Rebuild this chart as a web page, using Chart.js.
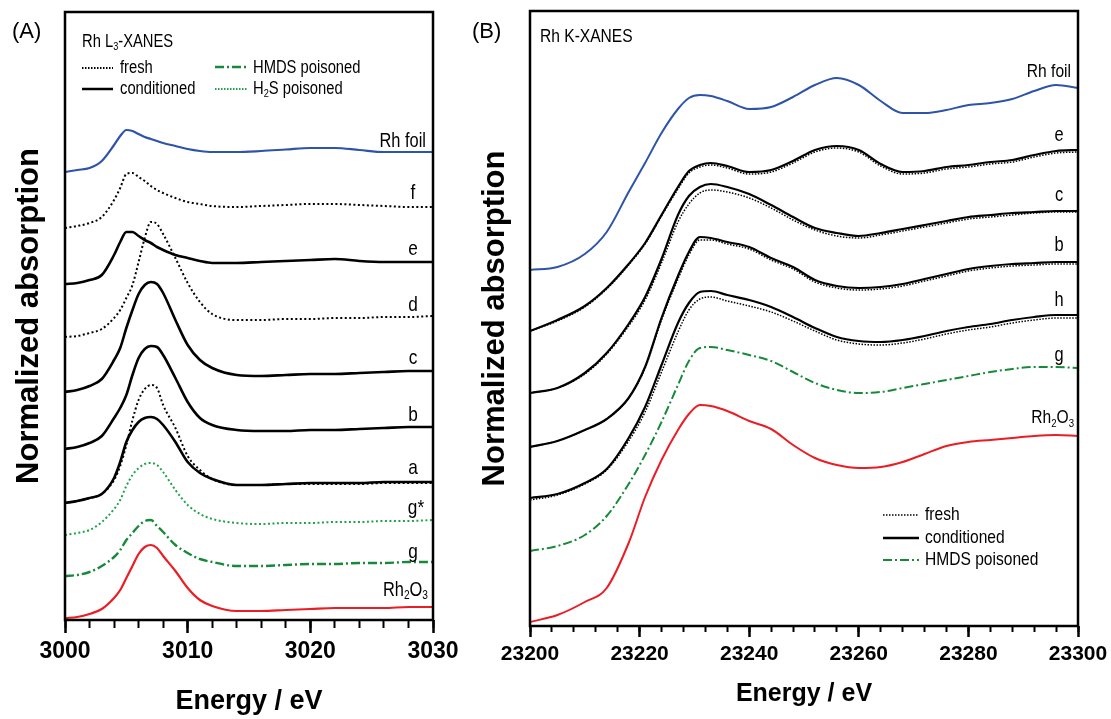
<!DOCTYPE html>
<html>
<head>
<meta charset="utf-8">
<title>Rh XANES</title>
<script src="https://cdn.jsdelivr.net/npm/chart.js@4.4.1/dist/chart.umd.min.js"></script>
<style>
  html, body { margin: 0; padding: 0; background: #fff; }
  #wrap { position: relative; width: 1111px; height: 719px; overflow: hidden; }
  canvas { position: absolute; top: 0; }
  #chartA { left: 0; }
  #chartB { left: 470px; }
</style>
</head>
<body>
<div id="wrap">
  <canvas id="chartA" width="470" height="719"></canvas>
  <canvas id="chartB" width="645" height="719"></canvas>
</div>
<script>
// ---- (A) Rh L3-edge, offset-stacked spectra ----
const energyA = [3000, 3001, 3002, 3003, 3004, 3004.5, 3005, 3005.5, 3006, 3006.5, 3007, 3007.5, 3008, 3009, 3010, 3011, 3012, 3014, 3016, 3018, 3020, 3022, 3024, 3026, 3028, 3030];
const foilA = [4.48, 4.50, 4.52, 4.59, 4.75, 4.84, 4.90, 4.89, 4.86, 4.83, 4.81, 4.79, 4.77, 4.74, 4.71, 4.69, 4.68, 4.68, 4.69, 4.705, 4.72, 4.72, 4.70, 4.68, 4.68, 4.68];
const fA = [3.92, 3.94, 3.97, 4.03, 4.20, 4.32, 4.46, 4.47, 4.43, 4.39, 4.34, 4.30, 4.27, 4.22, 4.18, 4.16, 4.14, 4.13, 4.14, 4.15, 4.16, 4.16, 4.15, 4.14, 4.13, 4.13];
const eA = [3.36, 3.37, 3.40, 3.45, 3.65, 3.78, 3.88, 3.88, 3.84, 3.80, 3.77, 3.73, 3.70, 3.65, 3.62, 3.59, 3.57, 3.57, 3.58, 3.59, 3.60, 3.61, 3.59, 3.58, 3.58, 3.58];
const dA = [2.83, 2.84, 2.87, 2.91, 3.02, 3.10, 3.22, 3.35, 3.58, 3.82, 3.98, 3.96, 3.86, 3.62, 3.37, 3.18, 3.06, 3.00, 3.00, 3.01, 3.01, 3.02, 3.02, 3.03, 3.03, 3.04];
const cA = [2.28, 2.30, 2.34, 2.41, 2.60, 2.72, 2.92, 3.10, 3.26, 3.35, 3.38, 3.36, 3.27, 3.00, 2.75, 2.60, 2.52, 2.45, 2.44, 2.45, 2.46, 2.46, 2.47, 2.48, 2.49, 2.49];
const bA = [1.71, 1.73, 1.77, 1.84, 2.02, 2.12, 2.25, 2.45, 2.62, 2.71, 2.74, 2.73, 2.65, 2.42, 2.18, 2.02, 1.95, 1.90, 1.89, 1.89, 1.90, 1.90, 1.91, 1.92, 1.93, 1.93];
const aA = [1.17, 1.19, 1.22, 1.26, 1.42, 1.58, 1.78, 1.90, 1.98, 2.02, 2.03, 2.01, 1.95, 1.78, 1.58, 1.47, 1.41, 1.35, 1.35, 1.36, 1.37, 1.37, 1.37, 1.38, 1.38, 1.38];
const aFreshA = [1.17, 1.19, 1.22, 1.26, 1.40, 1.54, 1.75, 2.00, 2.20, 2.31, 2.35, 2.32, 2.15, 1.92, 1.64, 1.50, 1.41, 1.35, 1.35, 1.36, 1.36, 1.36, 1.36, 1.37, 1.37, 1.37];
const gStarA = [0.85, 0.87, 0.90, 0.98, 1.11, 1.20, 1.34, 1.45, 1.52, 1.56, 1.57, 1.55, 1.48, 1.30, 1.15, 1.06, 1.01, 0.97, 0.96, 0.97, 0.97, 0.98, 0.98, 0.99, 0.99, 1.00];
const gA = [0.44, 0.45, 0.48, 0.54, 0.63, 0.70, 0.80, 0.87, 0.94, 0.99, 1.00, 0.94, 0.88, 0.75, 0.67, 0.61, 0.58, 0.54, 0.54, 0.55, 0.56, 0.56, 0.57, 0.57, 0.58, 0.58];
const rh2o3A = [0.02, 0.03, 0.06, 0.11, 0.22, 0.30, 0.42, 0.54, 0.66, 0.73, 0.75, 0.72, 0.64, 0.49, 0.32, 0.20, 0.14, 0.09, 0.09, 0.10, 0.11, 0.12, 0.12, 0.12, 0.13, 0.13];

// ---- (B) Rh K-edge ----
const energyB = [23200, 23205, 23210, 23214, 23218, 23221, 23224, 23227, 23229, 23231, 23233, 23236, 23240, 23244, 23248, 23252, 23256, 23260, 23264, 23268, 23272, 23276, 23280, 23284, 23288, 23292, 23296, 23300];
const foilB = [3.56, 3.59, 3.72, 3.94, 4.34, 4.63, 4.93, 5.17, 5.28, 5.31, 5.30, 5.25, 5.17, 5.19, 5.29, 5.41, 5.48, 5.41, 5.25, 5.13, 5.13, 5.16, 5.21, 5.23, 5.27, 5.35, 5.41, 5.38];
const eB = [2.95, 3.06, 3.20, 3.38, 3.62, 3.83, 4.11, 4.39, 4.55, 4.61, 4.63, 4.60, 4.54, 4.56, 4.65, 4.76, 4.80, 4.76, 4.62, 4.54, 4.55, 4.59, 4.61, 4.64, 4.66, 4.71, 4.75, 4.76];
const eFreshB = [2.95, 3.05, 3.19, 3.37, 3.61, 3.82, 4.10, 4.37, 4.53, 4.59, 4.61, 4.58, 4.52, 4.54, 4.63, 4.74, 4.78, 4.74, 4.60, 4.52, 4.53, 4.57, 4.59, 4.62, 4.64, 4.69, 4.73, 4.74];
const cB = [2.33, 2.38, 2.53, 2.73, 3.02, 3.29, 3.67, 4.11, 4.30, 4.39, 4.42, 4.39, 4.32, 4.21, 4.09, 3.98, 3.93, 3.90, 3.93, 3.97, 4.01, 4.05, 4.09, 4.11, 4.13, 4.14, 4.15, 4.15];
const cFreshB = [2.33, 2.38, 2.52, 2.72, 3.00, 3.26, 3.63, 4.04, 4.22, 4.33, 4.36, 4.34, 4.28, 4.18, 4.06, 3.96, 3.90, 3.88, 3.91, 3.95, 3.99, 4.03, 4.07, 4.09, 4.11, 4.13, 4.14, 4.14];
const bB = [1.79, 1.85, 1.96, 2.07, 2.28, 2.59, 3.08, 3.50, 3.74, 3.89, 3.88, 3.84, 3.79, 3.68, 3.59, 3.46, 3.40, 3.38, 3.39, 3.42, 3.47, 3.52, 3.57, 3.60, 3.62, 3.63, 3.64, 3.64];
const bFreshB = [1.79, 1.85, 1.96, 2.07, 2.28, 2.58, 3.06, 3.47, 3.71, 3.86, 3.86, 3.82, 3.77, 3.66, 3.57, 3.44, 3.38, 3.36, 3.37, 3.40, 3.45, 3.50, 3.55, 3.58, 3.60, 3.61, 3.62, 3.62];
const hB = [1.28, 1.32, 1.43, 1.57, 1.88, 2.19, 2.61, 3.03, 3.23, 3.34, 3.35, 3.31, 3.26, 3.19, 3.09, 2.98, 2.89, 2.85, 2.84, 2.86, 2.90, 2.95, 2.99, 3.02, 3.06, 3.09, 3.11, 3.11];
const hFreshB = [1.26, 1.31, 1.42, 1.56, 1.85, 2.14, 2.54, 2.94, 3.16, 3.27, 3.29, 3.25, 3.20, 3.14, 3.05, 2.95, 2.86, 2.82, 2.81, 2.83, 2.87, 2.92, 2.96, 2.99, 3.03, 3.06, 3.08, 3.08];
const gB = [0.75, 0.80, 0.91, 1.10, 1.42, 1.71, 2.04, 2.41, 2.65, 2.78, 2.79, 2.76, 2.71, 2.65, 2.54, 2.43, 2.36, 2.33, 2.34, 2.38, 2.42, 2.46, 2.50, 2.54, 2.57, 2.59, 2.59, 2.58];
const rh2o3B = [0.04, 0.11, 0.24, 0.38, 0.83, 1.29, 1.66, 1.96, 2.12, 2.21, 2.20, 2.15, 2.05, 1.97, 1.81, 1.68, 1.61, 1.58, 1.59, 1.64, 1.72, 1.80, 1.84, 1.86, 1.88, 1.90, 1.91, 1.90];

const SANS = "'Liberation Sans', Arial, sans-serif";
const NARROW_SCALE = 0.82;   // no narrow face installed, so squeeze Liberation Sans
const BLACK = '#000000';
const BLUE = '#2d54a8';
const RED = '#ec1c24';
const GREEN = '#178a3a';
const GREEN_DOT = '#1fa24a';
const DOT = [2, 2.5];
const DASHDOT = [9, 3, 2, 3];

function line(energy, values, color, width, dash) {
    return {
        data: energy.map((x, i) => ({ x: x, y: values[i] })),
        borderColor: color,
        borderWidth: width,
        borderDash: dash || [],
        pointRadius: 0,
        fill: false,
        cubicInterpolationMode: 'monotone'
    };
}

// draws text made of normal and subscript pieces, squeezed like a narrow face
function drawParts(ctx, note) {
    const size = note.size;
    const sub = size * 0.62;
    const sx = note.wide ? 1 : NARROW_SCALE;
    const widths = note.parts.map(p => {
        ctx.font = `${p[1] ? sub : size}px ${SANS}`;
        return ctx.measureText(p[0]).width;
    });
    const total = widths.reduce((s, w) => s + w, 0) * sx;
    let x0 = note.x;
    if (note.align === 'right') x0 -= total;
    if (note.align === 'center') x0 -= total / 2;
    ctx.save();
    ctx.translate(x0, note.y);
    ctx.scale(sx, 1);
    let x = 0;
    note.parts.forEach((p, i) => {
        ctx.font = `${p[1] ? sub : size}px ${SANS}`;
        ctx.fillText(p[0], x, p[1] ? size * 0.3 : 0);
        x += widths[i];
    });
    ctx.restore();
}

const notesPlugin = {
    id: 'notes',
    afterDraw(chart, args, opts) {
        const { ctx, chartArea: a } = chart;
        ctx.save();
        // frame round the plot
        ctx.strokeStyle = BLACK;
        ctx.lineWidth = opts.frame;
        ctx.setLineDash([]);
        ctx.strokeRect(a.left, a.top, a.right - a.left, a.bottom - a.top);
        // legend keys
        (opts.keys || []).forEach(k => {
            ctx.strokeStyle = k.color;
            ctx.lineWidth = k.width;
            ctx.setLineDash(k.dash);
            ctx.beginPath();
            ctx.moveTo(k.x1, k.y);
            ctx.lineTo(k.x2, k.y);
            ctx.stroke();
        });
        ctx.setLineDash([]);
        ctx.fillStyle = BLACK;
        ctx.textBaseline = 'middle';
        ctx.textAlign = 'left';
        (opts.texts || []).forEach(n => drawParts(ctx, n));
        ctx.restore();
    }
};

function makePanel(id, p) {
    return new Chart(document.getElementById(id), {
        type: 'line',
        data: { datasets: p.datasets },
        options: {
            responsive: false,
            devicePixelRatio: 1,
            animation: false,
            layout: { padding: { top: p.padTop, right: p.padRight, left: 0, bottom: 0 } },
            plugins: {
                legend: { display: false },
                tooltip: { enabled: false },
                notes: { frame: 2.5, texts: p.texts, keys: p.keys }
            },
            scales: {
                x: {
                    type: 'linear', position: 'bottom', weight: 1,
                    min: p.xmin, max: p.xmax,
                    ticks: {
                        stepSize: p.major, autoSkip: false, maxRotation: 0, padding: p.tickPad,
                        color: BLACK, font: { family: SANS, size: p.tickSize, weight: 'bold' },
                        callback: v => String(v)
                    },
                    grid: { drawOnChartArea: false, tickLength: p.majorLen, tickWidth: 2.5, tickColor: BLACK },
                    border: { display: false },
                    title: {
                        display: true, text: 'Energy / eV', color: BLACK,
                        font: { family: SANS, size: p.titleSize, weight: 'bold' },
                        padding: { top: 0, bottom: p.titlePad }
                    },
                    afterFit: s => { s.height = p.xHeight; }
                },
                xMinor: {
                    type: 'linear', position: 'bottom', weight: 0,
                    min: p.xmin, max: p.xmax,
                    ticks: { stepSize: p.minor, display: false },
                    grid: { drawOnChartArea: false, tickLength: p.minorLen, tickWidth: 2, tickColor: BLACK },
                    border: { display: false },
                    afterFit: s => { s.height = 0; }
                },
                y: {
                    position: 'left', min: 0, max: p.ymax,
                    ticks: { display: false },
                    grid: { display: false },
                    border: { display: false },
                    title: {
                        display: true, text: 'Normalized absorption', color: BLACK,
                        font: { family: SANS, size: 31, weight: 'bold' },
                        padding: { top: p.yTitlePad, bottom: 0 }
                    },
                    afterFit: s => { s.width = p.yWidth; }
                }
            }
        },
        plugins: [notesPlugin]
    });
}

window.addEventListener('load', () => {
    makePanel('chartA', {
        xmin: 3000, xmax: 3030, major: 10, minor: 2, ymax: 6.08,
        padTop: 12, padRight: 37, yWidth: 65, xHeight: 99, yTitlePad: 11,
        tickSize: 23, tickPad: 5, majorLen: 13, minorLen: 8, titleSize: 27, titlePad: 1,
        datasets: [
            line(energyA, foilA, BLUE, 2.2),
            line(energyA, eA, BLACK, 2.6),
            line(energyA, cA, BLACK, 2.6),
            line(energyA, bA, BLACK, 2.6),
            line(energyA, aA, BLACK, 2.6),
            line(energyA, fA, BLACK, 2, DOT),
            line(energyA, dA, BLACK, 2, DOT),
            line(energyA, aFreshA, BLACK, 2, DOT),
            line(energyA, gStarA, GREEN_DOT, 2, DOT),
            line(energyA, gA, GREEN, 2.4, DASHDOT),
            line(energyA, rh2o3A, RED, 2.2)
        ],
        keys: [
            { x1: 82, x2: 113, y: 68, color: BLACK, width: 1.8, dash: [1.5, 1.5] },
            { x1: 82, x2: 113, y: 89, color: BLACK, width: 2.5, dash: [] },
            { x1: 215, x2: 248, y: 67, color: GREEN, width: 2.5, dash: DASHDOT },
            { x1: 215, x2: 248, y: 89, color: GREEN_DOT, width: 1.8, dash: [1.5, 1.5] }
        ],
        texts: [
            { parts: [['(A)']], x: 12, y: 32, size: 22, wide: true },
            { parts: [['Rh L'], ['3', 1], ['-XANES']], x: 82, y: 42, size: 18 },
            { parts: [['fresh']], x: 120, y: 68, size: 18 },
            { parts: [['conditioned']], x: 120, y: 89, size: 18 },
            { parts: [['HMDS poisoned']], x: 253, y: 68, size: 18 },
            { parts: [['H'], ['2', 1], ['S poisoned']], x: 253, y: 89, size: 18 },
            { parts: [['Rh foil']], x: 426, y: 141, size: 20, align: 'right' },
            { parts: [['f']], x: 413, y: 193, size: 21, align: 'center' },
            { parts: [['e']], x: 413, y: 249, size: 21, align: 'center' },
            { parts: [['d']], x: 413, y: 305, size: 21, align: 'center' },
            { parts: [['c']], x: 413, y: 358, size: 21, align: 'center' },
            { parts: [['b']], x: 413, y: 415, size: 21, align: 'center' },
            { parts: [['a']], x: 413, y: 468, size: 21, align: 'center' },
            { parts: [['g*']], x: 416, y: 508, size: 21, align: 'center' },
            { parts: [['g']], x: 413, y: 552, size: 21, align: 'center' },
            { parts: [['Rh'], ['2', 1], ['O'], ['3', 1]], x: 428, y: 590, size: 20, align: 'right' }
        ]
    });

    makePanel('chartB', {
        xmin: 23200, xmax: 23300, major: 20, minor: 4, ymax: 6.15,
        padTop: 11, padRight: 37, yWidth: 60, xHeight: 93, yTitlePad: 7,
        tickSize: 21, tickPad: 5, majorLen: 11, minorLen: 6, titleSize: 25, titlePad: 10,
        datasets: [
            line(energyB, foilB, BLUE, 2),
            line(energyB, eB, BLACK, 2.2),
            line(energyB, cB, BLACK, 2.2),
            line(energyB, bB, BLACK, 2.2),
            line(energyB, hB, BLACK, 2.2),
            line(energyB, eFreshB, BLACK, 1.5, [1.5, 1.5]),
            line(energyB, cFreshB, BLACK, 1.5, [1.5, 1.5]),
            line(energyB, bFreshB, BLACK, 1.5, [1.5, 1.5]),
            line(energyB, hFreshB, BLACK, 1.5, [1.5, 1.5]),
            line(energyB, gB, GREEN, 2, DASHDOT),
            line(energyB, rh2o3B, RED, 2)
        ],
        keys: [
            { x1: 413, x2: 449, y: 515, color: BLACK, width: 1.6, dash: [1.5, 1.5] },
            { x1: 413, x2: 449, y: 538, color: BLACK, width: 2.4, dash: [] },
            { x1: 413, x2: 449, y: 560, color: GREEN, width: 2.2, dash: DASHDOT }
        ],
        texts: [
            { parts: [['(B)']], x: 2, y: 32, size: 22, wide: true },
            { parts: [['Rh K-XANES']], x: 70, y: 37, size: 19 },
            { parts: [['Rh foil']], x: 601, y: 72, size: 19, align: 'right' },
            { parts: [['e']], x: 589, y: 135, size: 20, align: 'center' },
            { parts: [['c']], x: 589, y: 195, size: 20, align: 'center' },
            { parts: [['b']], x: 589, y: 245, size: 20, align: 'center' },
            { parts: [['h']], x: 589, y: 300, size: 20, align: 'center' },
            { parts: [['g']], x: 589, y: 355, size: 20, align: 'center' },
            { parts: [['Rh'], ['2', 1], ['O'], ['3', 1]], x: 604, y: 418, size: 19, align: 'right' },
            { parts: [['fresh']], x: 455, y: 515, size: 19 },
            { parts: [['conditioned']], x: 455, y: 538, size: 19 },
            { parts: [['HMDS poisoned']], x: 455, y: 560, size: 19 }
        ]
    });
});
</script>
</body>
</html>
